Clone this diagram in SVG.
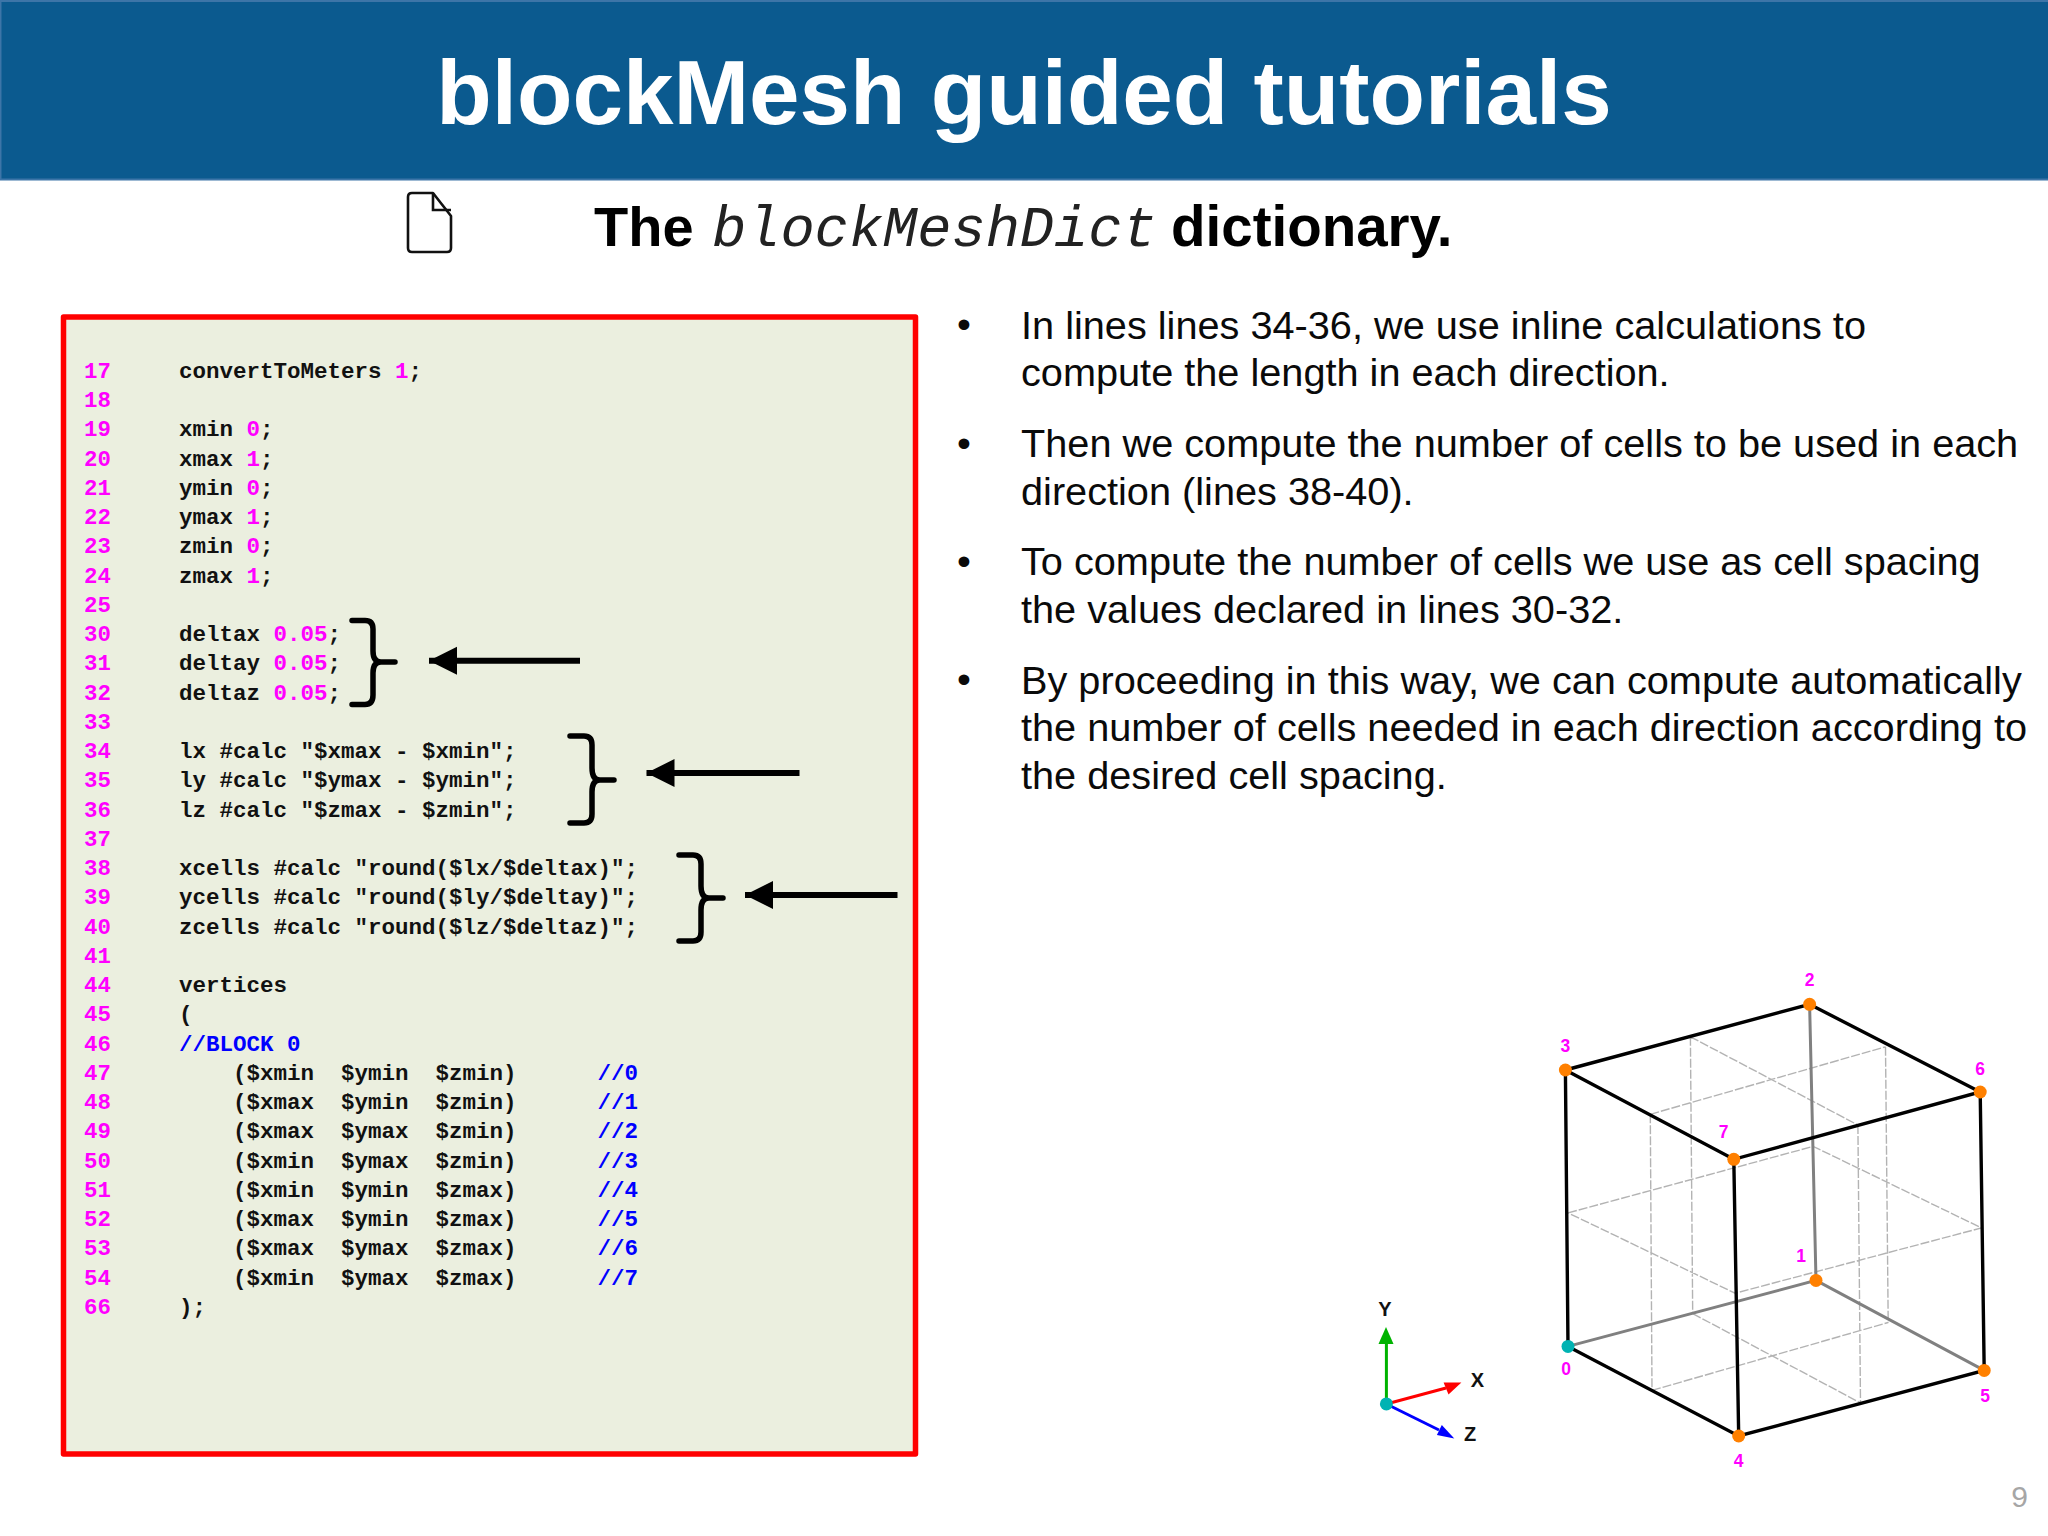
<svg xmlns="http://www.w3.org/2000/svg" width="2048" height="1536" viewBox="0 0 2048 1536">
<style>
text{font-family:"Liberation Sans",Arial,sans-serif}
.c{font-family:"Liberation Mono","Courier New",monospace;font-size:22.500px;font-weight:700;fill:#111;white-space:pre}
.n,.m{fill:#f0f}
.b{fill:#00f}
.n{font-family:"Liberation Mono","Courier New",monospace;font-size:22.400px;font-weight:700}
.t{font-size:39.700px;fill:#0a0a0a}
.v{font-size:17.500px;font-weight:700;fill:#f0f;text-anchor:middle}
.a{font-size:20px;font-weight:700;fill:#111;text-anchor:middle}
.br{fill:none;stroke:#000;stroke-width:5.500;stroke-linecap:round;stroke-linejoin:round}
.ar{stroke:#000;stroke-width:6;marker-start:url(#ah)}
.e{fill:none;stroke:#000;stroke-width:3.400}
.eb{fill:none;stroke:#808080;stroke-width:3}
.d{fill:none;stroke:#b3b3b3;stroke-width:1.400;stroke-dasharray:9 2}
.o{fill:#ff8000}
</style>
<defs>
<marker id="ah" markerUnits="userSpaceOnUse" markerWidth="30" markerHeight="30" refX="1" refY="15" orient="auto"><path d="M1,15 L29,1 L29,29Z" fill="#000"/></marker>
</defs>
<rect width="2048" height="1536" fill="#fff"/>
<g id="header">
<rect x="0" y="0" width="2048" height="180" fill="#0b5a8f"/>
<path d="M0,1H2048M0,179.500H2048M.5,0V180" stroke="#3d75a8" stroke-width="2" fill="none"/>
<text x="1024" y="123.500" font-size="90.800" font-weight="700" fill="#fff" text-anchor="middle">blockMesh guided tutorials</text>
</g>
<g id="subtitle">
<path d="M408,197 Q408,193 412,193 H433 L451,216 V248 Q451,252 447,252 H412 Q408,252 408,248Z" fill="#fff" stroke="#111" stroke-width="2.600" stroke-linejoin="round"/>
<path d="M433,193 V210 H451" fill="none" stroke="#111" stroke-width="2.600"/>
<text x="594" y="245.500" font-size="56" font-weight="700" fill="#000">The</text>
<text x="712" y="245.500" font-size="57" font-style="italic" fill="#222" style="font-family:'Liberation Mono','Courier New',monospace">blockMeshDict</text>
<text x="1171" y="245.500" font-size="56.500" font-weight="700" fill="#000">dictionary.</text>
</g>
<g id="code-box">
<rect x="63.500" y="317" width="852" height="1137" fill="#ebefdf" stroke="#f00" stroke-width="5.500" stroke-linejoin="round"/>
<g id="line-numbers" class="n">
<text class="n" x="84" y="377.700">17</text>
<text class="n" x="84" y="407">18</text>
<text class="n" x="84" y="436.200">19</text>
<text class="n" x="84" y="465.500">20</text>
<text class="n" x="84" y="494.700">21</text>
<text class="n" x="84" y="524">22</text>
<text class="n" x="84" y="553.200">23</text>
<text class="n" x="84" y="582.500">24</text>
<text class="n" x="84" y="611.700">25</text>
<text class="n" x="84" y="641">30</text>
<text class="n" x="84" y="670.200">31</text>
<text class="n" x="84" y="699.500">32</text>
<text class="n" x="84" y="728.700">33</text>
<text class="n" x="84" y="758">34</text>
<text class="n" x="84" y="787.200">35</text>
<text class="n" x="84" y="816.500">36</text>
<text class="n" x="84" y="845.700">37</text>
<text class="n" x="84" y="875">38</text>
<text class="n" x="84" y="904.200">39</text>
<text class="n" x="84" y="933.500">40</text>
<text class="n" x="84" y="962.700">41</text>
<text class="n" x="84" y="992">44</text>
<text class="n" x="84" y="1021.200">45</text>
<text class="n" x="84" y="1050.500">46</text>
<text class="n" x="84" y="1079.700">47</text>
<text class="n" x="84" y="1109">48</text>
<text class="n" x="84" y="1138.200">49</text>
<text class="n" x="84" y="1167.500">50</text>
<text class="n" x="84" y="1196.700">51</text>
<text class="n" x="84" y="1226">52</text>
<text class="n" x="84" y="1255.200">53</text>
<text class="n" x="84" y="1284.500">54</text>
<text class="n" x="84" y="1313.700">66</text>
</g>
<g id="code-lines">
<text class="c" x="179" y="377.700">convertToMeters <tspan class="m">1</tspan>;</text>
<text class="c" x="179" y="436.200">xmin <tspan class="m">0</tspan>;</text>
<text class="c" x="179" y="465.500">xmax <tspan class="m">1</tspan>;</text>
<text class="c" x="179" y="494.700">ymin <tspan class="m">0</tspan>;</text>
<text class="c" x="179" y="524">ymax <tspan class="m">1</tspan>;</text>
<text class="c" x="179" y="553.200">zmin <tspan class="m">0</tspan>;</text>
<text class="c" x="179" y="582.500">zmax <tspan class="m">1</tspan>;</text>
<text class="c" x="179" y="641">deltax <tspan class="m">0.05</tspan>;</text>
<text class="c" x="179" y="670.200">deltay <tspan class="m">0.05</tspan>;</text>
<text class="c" x="179" y="699.500">deltaz <tspan class="m">0.05</tspan>;</text>
<text class="c" x="179" y="758">lx #calc "$xmax - $xmin";</text>
<text class="c" x="179" y="787.200">ly #calc "$ymax - $ymin";</text>
<text class="c" x="179" y="816.500">lz #calc "$zmax - $zmin";</text>
<text class="c" x="179" y="875">xcells #calc "round($lx/$deltax)";</text>
<text class="c" x="179" y="904.200">ycells #calc "round($ly/$deltay)";</text>
<text class="c" x="179" y="933.500">zcells #calc "round($lz/$deltaz)";</text>
<text class="c" x="179" y="992">vertices</text>
<text class="c" x="179" y="1021.200">(</text>
<text class="c" x="179" y="1050.500"><tspan class="b">//BLOCK 0</tspan></text>
<text class="c" x="179" y="1079.700">    ($xmin  $ymin  $zmin)      <tspan class="b">//0</tspan></text>
<text class="c" x="179" y="1109">    ($xmax  $ymin  $zmin)      <tspan class="b">//1</tspan></text>
<text class="c" x="179" y="1138.200">    ($xmax  $ymax  $zmin)      <tspan class="b">//2</tspan></text>
<text class="c" x="179" y="1167.500">    ($xmin  $ymax  $zmin)      <tspan class="b">//3</tspan></text>
<text class="c" x="179" y="1196.700">    ($xmin  $ymin  $zmax)      <tspan class="b">//4</tspan></text>
<text class="c" x="179" y="1226">    ($xmax  $ymin  $zmax)      <tspan class="b">//5</tspan></text>
<text class="c" x="179" y="1255.200">    ($xmax  $ymax  $zmax)      <tspan class="b">//6</tspan></text>
<text class="c" x="179" y="1284.500">    ($xmin  $ymax  $zmax)      <tspan class="b">//7</tspan></text>
<text class="c" x="179" y="1313.700">);</text>
</g>
<g id="brace-1"><path class="br" d="M352,620.500H365Q373,620.500 373,629V651Q373,662 381,662H395M381,662Q373,662 373,673V695Q373,704.500 365,704.500H352"/></g>
<g id="brace-2"><path class="br" d="M570,736H584Q592,736 592,745V768Q592,780 600,780H614M600,780Q592,780 592,792V814Q592,823 584,823H570"/></g>
<g id="brace-3"><path class="br" d="M679,855H693Q701,855 701,864V886Q701,898 709,898H723M709,898Q701,898 701,910V932Q701,941 693,941H679"/></g>
</g>
<g id="connectors">
<path class="ar" d="M429,660.700H580"/>
<path class="ar" d="M646.500,773H799.500"/>
<path class="ar" d="M745,895H897.500"/>
</g>
<g id="bullets">
<text class="t" x="957" y="338">•</text>
<text class="t" x="1021" y="338.500">In lines lines 34-36, we use inline calculations to</text>
<text class="t" x="1021" y="386">compute the length in each direction.</text>
<text class="t" x="957" y="456.500">•</text>
<text class="t" x="1021" y="457">Then we compute the number of cells to be used in each</text>
<text class="t" x="1021" y="504.500">direction (lines 38-40).</text>
<text class="t" x="957" y="574.500">•</text>
<text class="t" x="1021" y="575">To compute the number of cells we use as cell spacing</text>
<text class="t" x="1021" y="623">the values declared in lines 30-32.</text>
<text class="t" x="957" y="693">•</text>
<text class="t" x="1021" y="693.500">By proceeding in this way, we can compute automatically</text>
<text class="t" x="1021" y="741">the number of cells needed in each direction according to</text>
<text class="t" x="1021" y="789">the desired cell spacing.</text>
</g>
<g id="cube">
<path class="d" d="M1690.400,1036.800L1857.900,1125M1650.300,1114.300L1885.500,1046.800M1568.100,1212.900L1813.200,1146.400L1981.500,1227.900L1735.100,1293.200ZM1690.400,1036.800L1692.700,1313.600M1885.500,1046.800L1888.200,1322.500M1650.300,1114.300L1652,1390.400M1857.900,1125L1860.500,1402.900M1692.700,1313.600L1860.500,1402.900M1652,1390.400L1888.200,1322.500"/>
<path class="eb" d="M1809.600,1004.300L1816,1280.400M1568,1346.400L1816,1280.400L1984.200,1370.400"/>
<path class="e" d="M1565.400,1070L1809.600,1004.300L1980.200,1092L1733.800,1159.300ZM1565.400,1070L1568,1346.400L1738.700,1436L1984.200,1370.400L1980.200,1092M1733.800,1159.300L1738.700,1436"/>
<g id="v0"><circle cx="1568" cy="1346.400" r="6.500" fill="#00b3b3"/><text class="v" x="1566" y="1375">0</text></g>
<g id="v1"><circle class="o" cx="1816" cy="1280.400" r="6.500"/><text class="v" x="1801" y="1261.700">1</text></g>
<g id="v2"><circle class="o" cx="1809.600" cy="1004.300" r="6.500"/><text class="v" x="1809.600" y="985.600">2</text></g>
<g id="v3"><circle class="o" cx="1565.400" cy="1070" r="6.500"/><text class="v" x="1565.400" y="1052.400">3</text></g>
<g id="v4"><circle class="o" cx="1738.700" cy="1436" r="6.500"/><text class="v" x="1738.700" y="1467.400">4</text></g>
<g id="v5"><circle class="o" cx="1984.200" cy="1370.400" r="6.500"/><text class="v" x="1985" y="1402">5</text></g>
<g id="v6"><circle class="o" cx="1980.200" cy="1092" r="6.500"/><text class="v" x="1980" y="1075">6</text></g>
<g id="v7"><circle class="o" cx="1733.800" cy="1159.300" r="6.500"/><text class="v" x="1723.500" y="1137.800">7</text></g>
</g>
<g id="axes">
<path d="M1386.400,1404V1344" stroke="#00b300" stroke-width="3" fill="none"/>
<path d="M1386,1327L1393.500,1344H1378.500Z" fill="#00b300"/>
<path d="M1386.400,1404L1446,1388" stroke="#f00" stroke-width="3" fill="none"/>
<path d="M1461.400,1382.500L1443.600,1382.500L1448.500,1394.600Z" fill="#f00"/>
<path d="M1386.400,1404L1439,1430" stroke="#00f" stroke-width="3" fill="none"/>
<path d="M1454.300,1438.600L1441.800,1425L1436.900,1435Z" fill="#00f"/>
<circle cx="1386.400" cy="1403.900" r="6.500" fill="#00b3b3"/>
<text class="a" x="1385" y="1316">Y</text>
<text class="a" x="1477.500" y="1387">X</text>
<text class="a" x="1470" y="1441">Z</text>
</g>
<text id="page-number" x="2019.500" y="1507" font-size="30" fill="#a6a6a6" text-anchor="middle">9</text>
</svg>
